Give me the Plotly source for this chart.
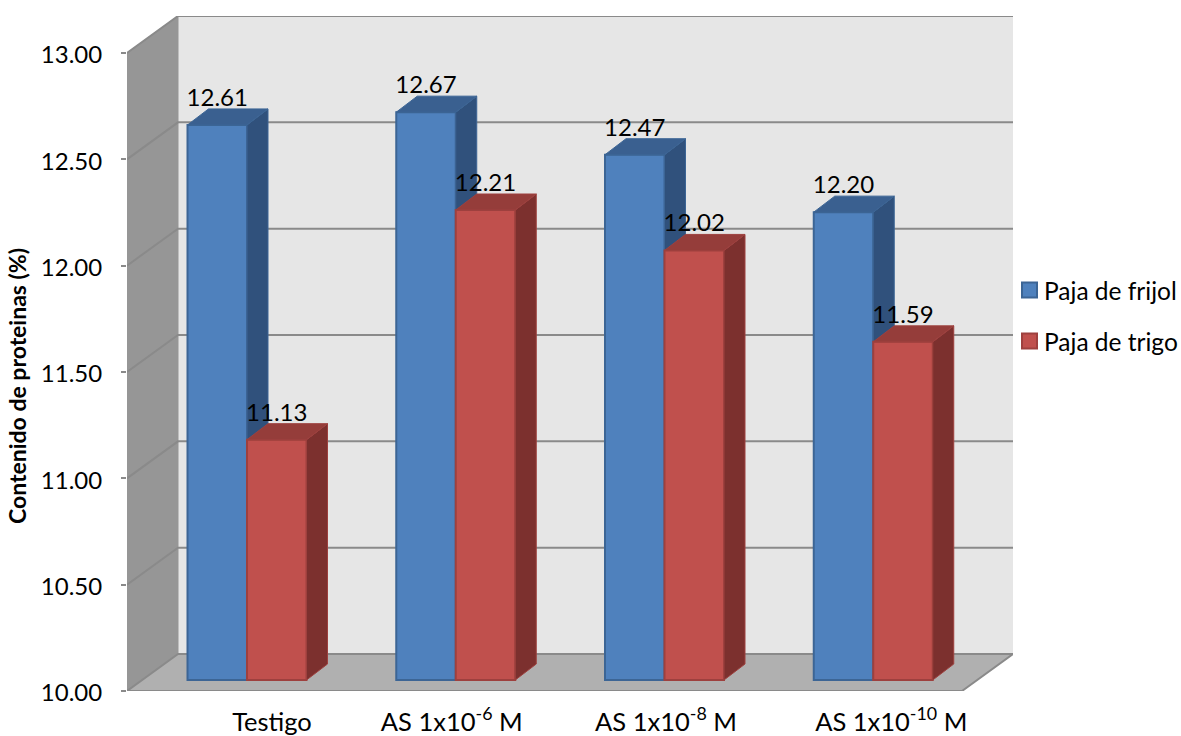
import plotly.graph_objects as go

categories = ["Testigo", "AS 1x10<sup>-6</sup> M", "AS 1x10<sup>-8</sup> M", "AS 1x10<sup>-10</sup> M"]
frijol = [12.61, 12.67, 12.47, 12.20]
trigo = [11.13, 12.21, 12.02, 11.59]
y_ticks = [10.0, 10.5, 11.0, 11.5, 12.0, 12.5, 13.0]

FONT = "Lato"
TXT = 24

# page geometry, in pixels
W, H = 1181, 736
PL, PR, PT, PB = 127, 1013, 16, 691
CAT_PX = 208.75
UNIT_PX = 212.67
ORIGIN_PX = 247  # junction of the first pair of bars

px_x = lambda p: p / CAT_PX
px_y = lambda p: p / UNIT_PX
paper_x = lambda p: (p - PL) / (PR - PL)
paper_y = lambda p: (PB - p) / (PB - PT)

x_lo = px_x(PL - ORIGIN_PX)
x_hi = px_x(PR - ORIGIN_PX)
y_top = 10 + px_y(PB - PT)

# box depth and the recess of the bars behind the front plane
box_dx, box_dz = px_x(51), px_y(37)
bar_dx, bar_dz = px_x(21), px_y(16)
bar_lift = px_y(11)
bar_w = px_x(59.5)
label_lift = px_y(13)
# horizontal placement of the category captions relative to each pair of bars
caption_nudge = [25, -4, 1.5, 18]

WALL_BACK, WALL_LEFT, FLOOR, EDGE = "#E6E6E6", "#969696", "#B0B0B0", "#8A8A8A"
BLUE = dict(front="#4F81BD", edge="#3C6595", top="#3A6090", side="#30517C")
RED = dict(front="#C0504D", edge="#9E403E", top="#953D3A", side="#7C302E")
xs = [0, 1, 2, 3]


def poly(xv, yv, fill, yaxis="y", line=None, width=1):
    return go.Scatter(x=xv, y=yv, mode="lines", fill="toself", fillcolor=fill,
                      line=dict(color=line or fill, width=width), yaxis=yaxis,
                      showlegend=False, hoverinfo="skip", cliponaxis=False)


fig = go.Figure()

# box walls and floor
x_front_r = x_hi - box_dx
x_back_l = x_lo + box_dx
fig.add_trace(poly([x_back_l, x_hi, x_hi, x_back_l, x_back_l],
                   [10 + box_dz, 10 + box_dz, 13 + box_dz, 13 + box_dz, 10 + box_dz], WALL_BACK))
fig.add_trace(poly([x_lo, x_back_l, x_back_l, x_lo, x_lo],
                   [10, 10 + box_dz, 13 + box_dz, 13, 10], WALL_LEFT))
fig.add_trace(poly([x_lo, x_front_r, x_hi, x_back_l, x_lo],
                   [10, 10, 10 + box_dz, 10 + box_dz, 10], FLOOR))

# gridlines run along the left wall and then across the back wall
for t in y_ticks:
    fig.add_trace(go.Scatter(
        x=[x_lo, x_back_l, x_hi], y=[t, t + box_dz, t + box_dz], mode="lines",
        line=dict(color=EDGE, width=2), showlegend=False, hoverinfo="skip", cliponaxis=False))
fig.add_trace(go.Scatter(x=[x_lo - px_x(7), x_front_r, x_hi], y=[10, 10, 10 + box_dz], mode="lines",
                         line=dict(color=EDGE, width=2), showlegend=False, hoverinfo="skip", cliponaxis=False))


def add_series(name, vals, offset, axis, c):
    bx = [x + offset for x in xs]
    fig.add_trace(go.Bar(x=bx, y=[v - 10 for v in vals], base=10, width=bar_w, offset=0,
                         marker=dict(color=c["front"], line=dict(color=c["edge"], width=2)),
                         name=name, yaxis=axis, showlegend=False, hoverinfo="skip"))
    for x, v in zip(bx, vals):
        r = x + bar_w
        fig.add_trace(poly([r, r, r + bar_dx, r + bar_dx, r],
                           [10, v, v + bar_dz, 10 + bar_dz, 10], c["side"], axis, line=c["edge"]))
        fig.add_trace(poly([x, r, r + bar_dx, x + bar_dx, x],
                           [v, v, v + bar_dz, v + bar_dz, v], c["top"], axis, line=c["edge"]))


add_series("Paja de frijol", frijol, -bar_w, "y2", BLUE)
add_series("Paja de trigo", trigo, 0, "y3", RED)

# value labels sit over the top faces
for vals, offset in ((frijol, -bar_w / 2), (trigo, bar_w / 2)):
    fig.add_trace(go.Scatter(
        x=[x + offset for x in xs], y=[v + label_lift for v in vals],
        text=[f"{v:.2f}" for v in vals], mode="text", textposition="top center",
        textfont=dict(family=FONT, size=TXT, color="#000000"),
        yaxis="y3", showlegend=False, hoverinfo="skip", cliponaxis=False))

# key to the right of the box: a square swatch beside each series name
key_shapes, key_notes = [], []
for name, c, row in (("Paja de frijol", BLUE, 290), ("Paja de trigo", RED, 341)):
    key_shapes.append(dict(type="rect", xref="paper", yref="paper",
                           x0=paper_x(1022), x1=paper_x(1037), y0=paper_y(row + 7.5), y1=paper_y(row - 7.5),
                           fillcolor=c["front"], line=dict(color=c["edge"], width=2)))
    key_notes.append(dict(text=name, showarrow=False, xref="paper", yref="paper",
                          x=paper_x(1042), y=paper_y(row), xanchor="left", yanchor="middle",
                          font=dict(family=FONT, size=24.5)))

fig.update_layout(
    width=W, height=H, autosize=False,
    margin=dict(l=PL, r=W - PR, t=PT, b=H - PB, pad=0),
    paper_bgcolor="white", plot_bgcolor="rgba(0,0,0,0)",
    barmode="overlay", showlegend=False,
    font=dict(family=FONT, size=TXT, color="#000000"),
    xaxis=dict(range=[x_lo, x_hi], tickmode="array", automargin=False,
               tickvals=[x + px_x(n) for x, n in zip(xs, caption_nudge)], ticktext=categories,
               tickfont=dict(family=FONT, size=25.5),
               showgrid=False, zeroline=False, showline=False, ticks="", ticklabelstandoff=13),
    yaxis=dict(range=[10, y_top], tickmode="array", tickvals=y_ticks, tickformat=".2f", automargin=False,
               showgrid=False, zeroline=False, showline=False, ticks="outside",
               ticklen=5, tickwidth=2, tickcolor=EDGE, ticklabelstandoff=14, ticklabelshift=2),
    yaxis2=dict(range=[10 - bar_lift, y_top - bar_lift], overlaying="y", visible=False),
    yaxis3=dict(range=[10 - bar_lift, y_top - bar_lift], overlaying="y", visible=False),
    shapes=key_shapes,
    annotations=key_notes + [dict(text="<b>Contenido de proteinas (%)</b>", textangle=-90, showarrow=False,
                                  xanchor="center", yanchor="middle", xref="paper", yref="y",
                                  x=paper_x(17), y=10 + px_y(PB - 386),
                                  font=dict(family=FONT, size=23))],
)

fig.write_html("out.html", config={"displayModeBar": False})
